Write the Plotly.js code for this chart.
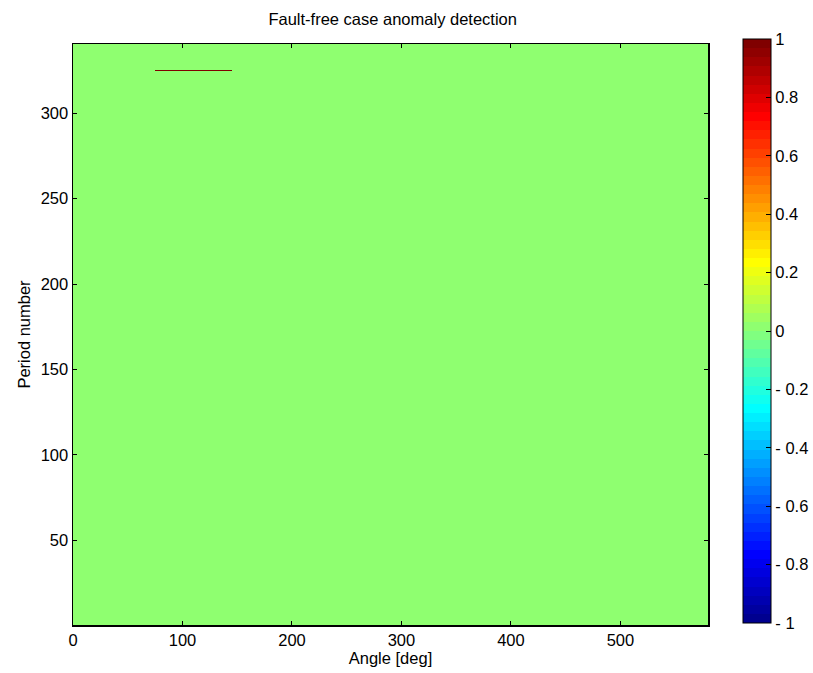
<!DOCTYPE html>
<html>
<head>
<meta charset="utf-8">
<script src="https://cdn.plot.ly/plotly-3.0.1.min.js"></script>
<style>html,body{margin:0;padding:0;background:#fff;}#chart{width:813px;height:673px;}</style>
</head>
<body>
<div id="chart"></div>
<script>
// ---- data ----
const angleStart = 0;          // deg
const angleEnd = 580;          // deg
const periodCount = 340;       // number of periods
const baselineValue = 0;       // fault-free: no anomaly everywhere
const anomalyPeriod = 325;     // single flagged period
const anomalyAngleFrom = 75;   // deg
const anomalyAngleTo = 145;    // deg
const anomalyValue = 1;
const xTickVals = [0, 100, 200, 300, 400, 500];
const yTickVals = [50, 100, 150, 200, 250, 300];
const cbTickVals = [1, 0.8, 0.6, 0.4, 0.2, 0, -0.2, -0.4, -0.6, -0.8, -1];
const cbTickText = ['1', '0.8', '0.6', '0.4', '0.2', '0', '- 0.2', '- 0.4', '- 0.6', '- 0.8', '- 1'];

// grid built from the named values
const angles = [];
for (let a = angleStart; a < angleEnd; a++) angles.push(a + 0.5);
const periods = [];
for (let p = 1; p <= periodCount; p++) periods.push(p);
const z = periods.map(p => angles.map(a =>
  (p === anomalyPeriod && a >= anomalyAngleFrom && a <= anomalyAngleTo) ? anomalyValue : baselineValue));

// MATLAB jet(64) as a stepped colorscale
function jet(m) {
  const n = Math.ceil(m / 4);
  const u = [];
  for (let i = 1; i <= n; i++) u.push(i / n);
  for (let i = 1; i <= n - 1; i++) u.push(1);
  for (let i = n; i >= 1; i--) u.push(i / n);
  const off = Math.ceil(n / 2) - (m % 4 === 1 ? 1 : 0);
  const cols = [];
  for (let r = 0; r < m; r++) cols.push([0, 0, 0]);
  for (let k = 0; k < u.length; k++) {
    const g = off + k + 1, rr = g + n, b = g - n;
    if (g >= 1 && g <= m) cols[g - 1][1] = u[k];
    if (rr >= 1 && rr <= m) cols[rr - 1][0] = u[k];
    if (b >= 1 && b <= m) cols[b - 1][2] = u[k];
  }
  return cols.map(c => 'rgb(' + c.map(v => Math.round(v * 255)).join(',') + ')');
}
const jc = jet(64);
const colorscale = [];
jc.forEach((c, i) => {
  colorscale.push([i / 64, c]);
  colorscale.push([(i + 1) / 64, c]);
});

const font = {family: 'Liberation Sans, Arial, sans-serif', color: '#000'};
const fs = 16.5;

// layout geometry (pixels)
const W = 813, H = 673, mL = 73, mR = 105, mT = 44, mB = 48;
const plotW = W - mL - mR, plotH = H - mT - mB;
const cbLeft = 743, cbThick = 28, cbTop = 39, cbBottom = 623;
const cbX = (cbLeft - mL) / plotW;
const cbY = (H - mB - (cbTop + cbBottom) / 2) / plotH;

// left-side tick dashes on the colorbar (MATLAB draws both sides)
const cbShapes = cbTickVals.filter(v => Math.abs(v) < 1).map(v => {
  const py = cbBottom - (v + 1) / 2 * (cbBottom - cbTop);
  const yp = (H - mB - py) / plotH;
  return {type: 'line', xref: 'paper', yref: 'paper',
          x0: cbX, x1: cbX + 5 / plotW, y0: yp, y1: yp,
          line: {color: '#000', width: 1}};
});

const trace = {
  type: 'heatmap',
  x: angles,
  y: periods,
  z: z,
  zmin: -1,
  zmax: 1,
  zsmooth: false,
  colorscale: colorscale,
  hoverinfo: 'skip',
  colorbar: {
    x: cbX, xanchor: 'left', xref: 'paper',
    y: cbY, yanchor: 'middle',
    len: cbBottom - cbTop, lenmode: 'pixels',
    thickness: cbThick, thicknessmode: 'pixels',
    outlinewidth: 1, outlinecolor: '#000',
    tickmode: 'array', tickvals: cbTickVals, ticktext: cbTickText,
    ticks: 'inside', ticklen: 5, tickcolor: '#000',
    tickfont: Object.assign({size: fs}, font),
    xpad: 0, ypad: 0
  }
};

const layout = {
  width: W, height: H,
  margin: {l: mL, r: mR, t: mT, b: mB, autoexpand: false},
  paper_bgcolor: '#fff', plot_bgcolor: '#fff',
  font: font,
  title: {text: 'Fault-free case anomaly detection', x: 0.483, xanchor: 'center', y: 0.972, yanchor: 'middle',
          font: Object.assign({size: fs}, font)},
  xaxis: {
    range: [angleStart, angleEnd], tickmode: 'array', tickvals: xTickVals,
    ticks: 'inside', ticklen: 4, tickcolor: '#000', mirror: 'ticks',
    showline: true, linecolor: '#000', linewidth: 1.5, showgrid: false, zeroline: false,
    tickfont: Object.assign({size: fs}, font),
    title: {text: 'Angle [deg]', font: Object.assign({size: fs}, font), standoff: 4}
  },
  yaxis: {
    range: [0.5, periodCount + 0.5], tickmode: 'array', tickvals: yTickVals,
    ticks: 'inside', ticklen: 4, tickcolor: '#000', mirror: 'ticks',
    showline: true, linecolor: '#000', linewidth: 1.5, showgrid: false, zeroline: false,
    tickfont: Object.assign({size: fs}, font),
    title: {text: 'Period number', font: Object.assign({size: fs}, font), standoff: 6}
  },
  shapes: cbShapes,
  showlegend: false
};

Plotly.newPlot('chart', [trace], layout, {displayModeBar: false, staticPlot: true});
</script>
</body>
</html>
